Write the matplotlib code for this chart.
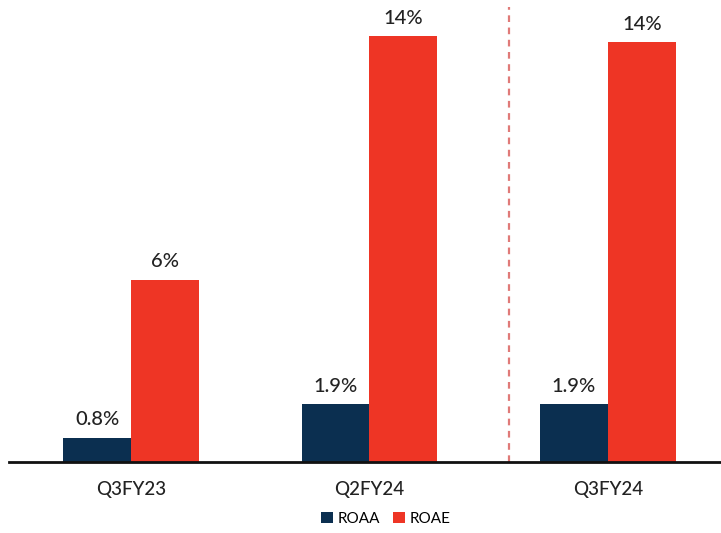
import matplotlib.pyplot as plt
import numpy as np

plt.rcParams['font.family'] = ['Lato', 'DejaVu Sans']

periods = ["Q3FY23", "Q2FY24", "Q3FY24"]
roaa = [0.8, 1.9, 1.9]
roae = [6.0, 14.0, 13.8]
roaa_labels = ["0.8%", "1.9%", "1.9%"]
roae_labels = ["6%", "14%", "14%"]

navy = "#0b2f50"
red = "#ee3525"

fig = plt.figure(figsize=(7.21, 5.33), dpi=100)
ax = fig.add_axes([9 / 721, 71 / 533, 1 - 9 / 721, 462 / 533])

x = np.arange(len(periods))
w = 0.285
b1 = ax.bar(x - w / 2, roaa, w, color=navy, label="ROAA")
b2 = ax.bar(x + w / 2, roae, w, color=red, label="ROAE")

for bar, lab in zip(b1, roaa_labels):
    ax.annotate(lab, (bar.get_x() + bar.get_width() / 2, bar.get_height()),
                xytext=(0, 7), textcoords="offset points", ha="center", va="bottom",
                fontsize=14.5, color="#222222", fontweight="medium")
for bar, lab in zip(b2, roae_labels):
    ax.annotate(lab, (bar.get_x() + bar.get_width() / 2, bar.get_height()),
                xytext=(0, 7), textcoords="offset points", ha="center", va="bottom",
                fontsize=14.5, color="#222222", fontweight="medium")

# separator between comparison quarters
ax.axvline(1.585, ymin=0, ymax=0.985, color="#e07a78", linestyle=(0, (3, 2.5)), linewidth=1.6)

ax.set_xlim(-0.5115, 2.474)
ax.set_ylim(0, 462 / 30.4)
ax.set_xticks(x)
ax.set_xticklabels(periods, fontsize=13.5, color="#222222", fontweight="medium")
ax.tick_params(axis="x", length=0, pad=14)
ax.set_yticks([])
for s in ["top", "right", "left"]:
    ax.spines[s].set_visible(False)
ax.spines["bottom"].set_linewidth(2)
ax.spines["bottom"].set_color("#111111")

fig.legend(handles=[b1, b2], loc="center", bbox_to_anchor=(0.535, 0.027), ncol=2,
           frameon=False, fontsize=11, handlelength=0.8, handleheight=0.8,
           handletextpad=0.3, columnspacing=0.8)

fig.savefig("out.png", dpi=100)
